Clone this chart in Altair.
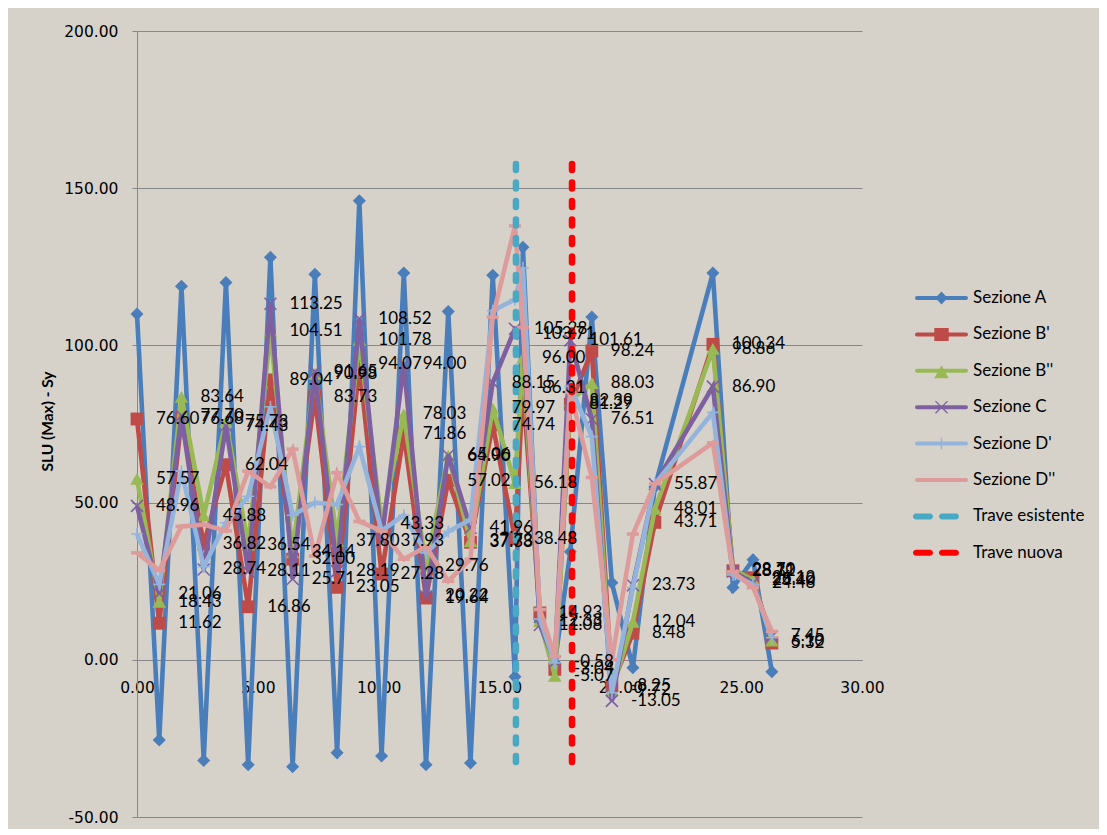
import altair as alt
import pandas as pd

# ---------------- data ----------------
X_POS = [0.00, 0.92, 1.84, 2.76, 3.68, 4.60, 5.52, 6.44, 7.36, 8.28, 9.20, 10.12,
         11.04, 11.96, 12.88, 13.80, 14.72, 15.64, 15.97, 16.67, 17.29, 17.93,
         18.82, 19.65, 20.52, 21.43, 23.83, 24.66, 25.49, 26.27]

SEZ_A = [110.0, -25.5, 118.8, -32.0, 120.0, -33.4, 128.0, -34.0, 122.6, -29.6, 146.0, -30.6,
         123.0, -33.4, 110.8, -32.8, 122.3, -5.4, 131.2, 12.0, -1.0, 34.4,
         109.0, 24.5, -2.5, 55.0, 123.0, 23.0, 31.8, -3.8]
SEZ_B1 = [76.60, 11.62, 76.68, 36.82, 62.04, 16.86, 89.04, 32.00, 83.73, 23.05, 94.07, 27.28,
          71.86, 19.64, 57.02, 37.38, 74.74, 38.48, 86.31, 14.93, -3.04, 81.29,
          98.24, -8.25, 8.48, 43.71, 100.34, 28.31, 26.12, 5.32]
SEZ_B2 = [57.57, 18.43, 83.64, 45.88, 75.73, 36.54, 104.51, 34.14, 90.98, 37.80, 101.78, 43.33,
          78.03, 29.76, 64.90, 37.73, 79.97, 56.18, 96.00, 12.33, -5.07, 82.39,
          88.03, -9.72, 12.04, 48.01, 98.86, 28.70, 25.40, 6.10]
SEZ_C = [48.96, 21.06, 77.70, 28.74, 74.43, 28.11, 113.25, 25.71, 91.65, 28.19, 108.52, 37.93,
         94.00, 20.22, 65.06, 41.96, 88.15, 105.28, 103.71, 11.08, -0.58, 101.61,
         76.51, -13.05, 23.73, 55.87, 86.90, 28.12, 24.48, 7.45]
SEZ_D1 = [40.0, 24.0, 60.0, 29.6, 43.6, 52.0, 80.5, 46.0, 50.0, 49.4, 67.8, 41.0,
          46.0, 34.0, 40.8, 44.6, 111.0, 114.6, 124.7, 13.0, -1.0, 87.0,
          71.0, -10.5, 23.0, 56.0, 78.7, 27.0, 24.0, 7.0]
SEZ_D2 = [34.0, 28.5, 42.4, 43.0, 41.0, 60.0, 55.0, 67.0, 33.0, 59.5, 44.0, 41.0,
          32.0, 36.0, 25.0, 32.0, 109.0, 138.0, 105.7, 16.0, 1.0, 85.0,
          58.0, 0.0, 40.0, 56.0, 69.0, 28.0, 23.0, 9.0]

TRAVE_ESISTENTE_X = [15.68]
TRAVE_NUOVA_X = [18.00]
TRAVE_Y_BOTTOM = [-32.5]
TRAVE_Y_TOP = [160.5]

NAMES = ["Sezione A", "Sezione B'", "Sezione B''", "Sezione C", "Sezione D'",
         "Sezione D''", "Trave esistente", "Trave nuova"]
COLORS = ["#4A7EBB", "#BE4B48", "#98B954", "#7D60A0", "#94B4DC", "#DD9C9B",
          "#48A9C5", "#FF0000"]

X_TICKS = [0, 5, 10, 15, 20, 25, 30]
Y_TICKS = [-50, 0, 50, 100, 150, 200]

BG = "#D6D2C9"
GRID = "#878787"

# ---------------- encodings ----------------
minus_fix = "replace(datum.label, '\u2212', '-')"
x_enc = alt.X(
    "x:Q",
    scale=alt.Scale(domain=[0, 30], nice=False, zero=False),
    axis=alt.Axis(values=X_TICKS, format=".2f", labelExpr=minus_fix, offset=-157,
                  ticks=False, tickSize=0, labelPadding=20, grid=False,
                  domainColor=GRID, domainWidth=1, labelFlush=False,
                  labelFont="DejaVu Sans", labelFontSize=15.5, labelColor="#000",
                  title=None),
)
y_enc = alt.Y(
    "y:Q",
    scale=alt.Scale(domain=[-50, 200], nice=False, zero=False),
    axis=alt.Axis(values=Y_TICKS, format=".2f", labelExpr=minus_fix,
                  tickSize=5, tickColor=GRID, labelPadding=14, grid=True,
                  gridColor=GRID, gridWidth=1, domainColor=GRID, domainWidth=1,
                  labelFont="DejaVu Sans", labelFontSize=15.5, labelColor="#000",
                  title="SLU (Max) - Sy", titleFont="Lato", titleFontWeight="bold",
                  titleFontSize=15.5, titleColor="#000", titleX=-90, titleY=390,
                  titleAlign="center", titleBaseline="middle"),
)

# marker definitions for the plotted series
MARKERS = [
    dict(shape="diamond", filled=True, size=170),
    dict(shape="square", filled=True, size=165),
    dict(shape="triangle-up", filled=True, size=185),
    dict(shape="M-1,-1L1,1M-1,1L1,-1", filled=False, size=144, strokeWidth=1.6),
    dict(shape="M-1,0H1M0,-1V1", filled=False, size=144, strokeWidth=1.6),
    dict(shape="M-1,-0.3H1V0.3H-1Z", filled=True, size=144),
]
SERIES = [SEZ_A, SEZ_B1, SEZ_B2, SEZ_C, SEZ_D1, SEZ_D2]
LABELLED = [False, True, True, True, False, False]

layers = []
label_layers = []
for name, vals, col, mk, lab in zip(NAMES[:6], SERIES, COLORS[:6], MARKERS, LABELLED):
    df = pd.DataFrame({"x": X_POS, "y": vals,
                       "label": [f"{v:.2f}" for v in vals]})
    base = alt.Chart(df)
    layers.append(base.mark_line(color=col, strokeWidth=4.6).encode(x=x_enc, y=y_enc))
    layers.append(base.mark_point(color=col, opacity=1, **mk).encode(x=x_enc, y=y_enc))
    if lab:
        label_layers.append(
            base.mark_text(align="left", baseline="middle", dx=19, font="Lato",
                           fontSize=17, color="#000").encode(x=x_enc, y=y_enc, text="label:N")
        )

# vertical dashed reference lines
for xs, col in [(TRAVE_ESISTENTE_X, COLORS[6]), (TRAVE_NUOVA_X, COLORS[7])]:
    dfr = pd.DataFrame({"x": xs, "y": TRAVE_Y_BOTTOM, "y2": TRAVE_Y_TOP})
    layers.append(
        alt.Chart(dfr).mark_rule(color=col, strokeWidth=6.5, strokeCap="round",
                                 strokeDash=[6, 12.5]).encode(x=x_enc, y=y_enc, y2="y2:Q")
    )

# legend (line + marker symbols as custom paths)
def line_path(h=0.2, w=2.65):
    a = w - h
    return (f"M{-a},{-h}H{a}A{h},{h} 0 0 1 {a},{h}H{-a}A{h},{h} 0 0 1 {-a},{-h}Z")

def dash_path(x0, x1, h=0.3):
    a0, a1 = x0 + h, x1 - h
    return (f"M{a0},{-h}H{a1}A{h},{h} 0 0 1 {a1},{h}H{a0}A{h},{h} 0 0 1 {a0},{-h}Z")

LEG_PATHS = [
    line_path() + "M0,-0.65L0.62,0L0,0.65L-0.62,0Z",
    line_path() + "M-0.72,-0.65H0.72V0.65H-0.72Z",
    line_path() + "M0,-0.55L0.72,0.75H-0.72Z",
    line_path() + "M-0.65,-0.56L-0.56,-0.65L0.65,0.56L0.56,0.65Z"
                  "M0.56,-0.65L0.65,-0.56L-0.56,0.65L-0.65,0.56Z",
    line_path() + "M-0.07,-0.6H0.07V0.6H-0.07Z",
    line_path(),
    dash_path(-2.85, -0.85) + dash_path(-0.25, 1.75),
    dash_path(-2.85, -0.85) + dash_path(-0.25, 1.75),
]

leg = alt.Legend(title=None, orient="none", legendX=794.5, legendY=257,
                 symbolSize=400, symbolStrokeWidth=0, symbolOpacity=1,
                 labelFont="Lato", labelFontSize=17, labelColor="#000",
                 labelOffset=21.5, rowPadding=18.4, padding=0, labelLimit=300)

legend_layer = alt.Chart(pd.DataFrame({"series": NAMES})).mark_point(
    filled=True, opacity=1
).encode(
    color=alt.Color("series:N", scale=alt.Scale(domain=NAMES, range=COLORS), legend=leg),
    shape=alt.Shape("series:N", scale=alt.Scale(domain=NAMES, range=LEG_PATHS), legend=leg),
).transform_filter("false")

chart = alt.layer(*layers, *label_layers, legend_layer).properties(
    width=725,
    height=786,
    background=BG,
    padding={"left": 129, "top": 23, "right": 237, "bottom": 12},
    autosize=alt.AutoSizeParams(type="none"),
).configure_view(stroke=None)

chart.save("out.html", embed_options={"renderer": "svg", "actions": False})
